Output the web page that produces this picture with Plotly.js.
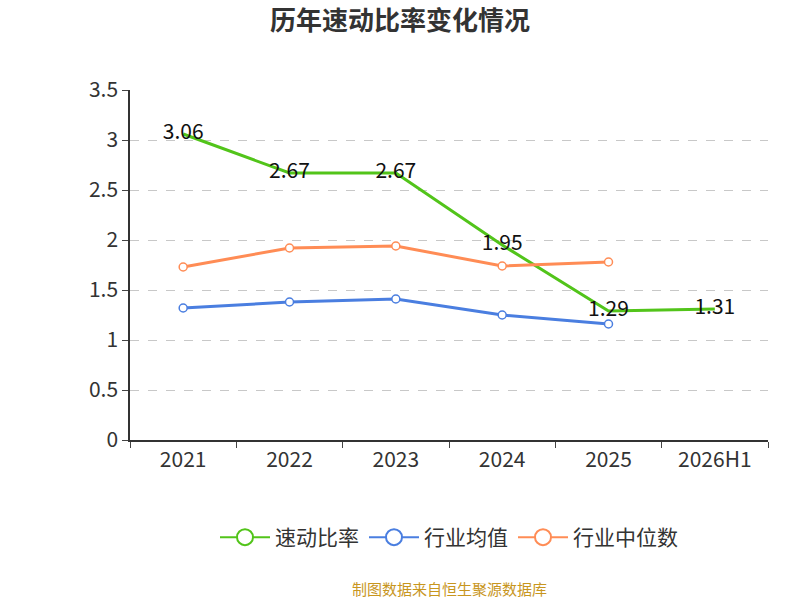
<!DOCTYPE html>
<html>
<head>
<meta charset="utf-8">
<script src="https://cdn.plot.ly/plotly-3.0.1.min.js"></script>
<style>body{margin:0}#chart{width:800px;height:600px}</style>
</head>
<body>
<div id="chart"></div>
<script>
const years = ['2021', '2022', '2023', '2024', '2025', '2026H1'];
const quickRatio = [3.06, 2.67, 2.67, 1.95, 1.29, 1.31];
const industryAvg = [1.32, 1.38, 1.41, 1.25, 1.16];
const industryMedian = [1.73, 1.92, 1.94, 1.74, 1.78];
const seriesNames = ['速动比率', '行业均值', '行业中位数'];
const seriesColors = ['#52c41a', '#4a7ee0', '#ff8c55'];

const font = 'Noto Sans CJK SC, Noto Sans, sans-serif';

const traces = [
  {
    x: years, y: quickRatio, name: seriesNames[0], type: 'scatter', mode: 'lines+text',
    text: quickRatio.map(v => v.toFixed(2)), textposition: 'middle center',
    textfont: { size: 21, color: '#111', family: font },
    line: { color: seriesColors[0], width: 3 }, showlegend: false,
  },
  {
    x: years.slice(0, 5), y: industryAvg, name: seriesNames[1], type: 'scatter', mode: 'lines+markers',
    line: { color: seriesColors[1], width: 3 }, showlegend: false,
    marker: { size: 8, color: '#fff', line: { color: seriesColors[1], width: 1.5 } },
  },
  {
    x: years.slice(0, 5), y: industryMedian, name: seriesNames[2], type: 'scatter', mode: 'lines+markers',
    line: { color: seriesColors[2], width: 3 }, showlegend: false,
    marker: { size: 8, color: '#fff', line: { color: seriesColors[2], width: 1.5 } },
  },
];
// legend-only entries with larger markers
seriesNames.forEach((n, i) => traces.push({
  x: [null], y: [null], name: n, type: 'scatter', mode: 'lines+markers',
  line: { color: seriesColors[i], width: 2 },
  marker: { size: 18, color: '#fff', line: { color: seriesColors[i], width: 2 } },
}));

const layout = {
  width: 800, height: 600,
  margin: { l: 130, r: 32, t: 90, b: 160 },
  paper_bgcolor: '#fff', plot_bgcolor: '#fff',
  font: { family: font, color: '#333' },
  title: { text: '<b>历年速动比率变化情况</b>', x: 0.5, y: 0.98, yanchor: 'top', font: { size: 26, color: '#333' } },
  xaxis: {
    type: 'category', tickson: 'boundaries', ticks: 'outside', ticklen: 6,
    showline: true, linecolor: '#333', linewidth: 1.5, showgrid: false,
    tickfont: { size: 21, color: '#333' }, range: [-0.5, 5.5],
  },
  yaxis: {
    range: [0, 3.5], dtick: 0.5, ticks: 'outside', ticklen: 6,
    showline: true, linecolor: '#333', linewidth: 1.5,
    gridcolor: '#c8c8c8', griddash: 'dash', zeroline: false,
    tickfont: { size: 21, color: '#333' },
  },
  legend: {
    orientation: 'h', x: 0.5, xanchor: 'center', y: -0.22, yanchor: 'top',
    font: { size: 21, color: '#333' }, itemwidth: 50,
  },
  annotations: [{
    text: '制图数据来自恒生聚源数据库', xref: 'paper', yref: 'paper',
    x: 0.5, y: -0.46, showarrow: false, font: { size: 15, color: '#c8961e' },
  }],
};

Plotly.newPlot('chart', traces, layout, { displayModeBar: false });
</script>
</body>
</html>
